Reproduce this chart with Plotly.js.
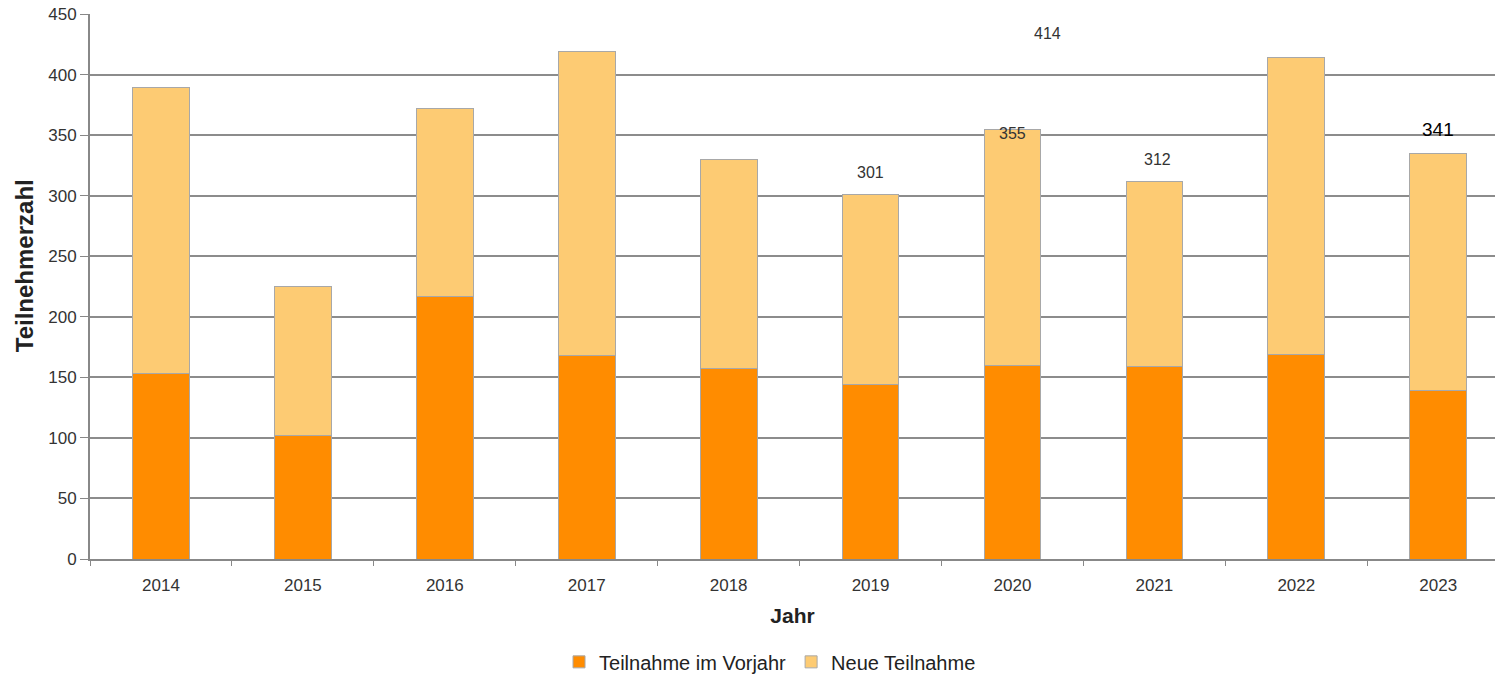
<!DOCTYPE html>
<html>
<head>
<meta charset="utf-8">
<script src="https://cdn.plot.ly/plotly-3.0.1.min.js"></script>
<style>html,body{margin:0;padding:0;background:#fff;}#chart{width:1495px;height:674px;}</style>
</head>
<body>
<div id="chart"></div>
<script>
var years = ['2014','2015','2016','2017','2018','2019','2020','2021','2022','2023'];
var vorjahr = [153, 102, 217, 168, 157, 144, 160, 159, 169, 139];
var neue    = [236, 123, 155, 251, 173, 157, 195, 153, 245, 196];
var seriesNames = ['Teilnahme im Vorjahr', 'Neue Teilnahme'];
var yTicks = [0, 50, 100, 150, 200, 250, 300, 350, 400, 450];

// value labels as placed in the original
var labelText = ['414', '355', '301', '312', '341'];
var labelX    = [6.25, 6.0, 5.0, 7.02, 9.0];
var labelY    = [434, 351, 319.5, 329.5, 355];
var labelSize = [16, 16, 16, 16, 19];

var FONT = 'Liberation Sans, Arial, sans-serif';
var barLine = {color: '#a8a8a8', width: 1};
var traces = [
  {type: 'bar', x: years, y: vorjahr, name: seriesNames[0],
   marker: {color: '#ff8c00', line: barLine}, width: 0.4},
  {type: 'bar', x: years, y: neue, name: seriesNames[1],
   marker: {color: '#fdcb73', line: barLine}, width: 0.4}
];

var annotations = labelText.map(function (t, i) {
  return {x: labelX[i], y: labelY[i], xref: 'x', yref: 'y', text: t, showarrow: false,
          font: {family: FONT, size: labelSize[i], color: i === 4 ? '#000' : '#333'}};
});
annotations.push({
  text: '<b>Teilnehmerzahl</b>', textangle: -90, showarrow: false,
  xref: 'paper', yref: 'paper', x: -0.047, y: 0.539, xanchor: 'center', yanchor: 'middle',
  font: {family: FONT, size: 24, color: '#222'}
});

var layout = {
  width: 1495, height: 674,
  margin: {l: 90, r: 0, t: 14, b: 115, autoexpand: false},
  paper_bgcolor: '#fff', plot_bgcolor: '#fff',
  barmode: 'stack',
  font: {family: FONT, size: 17, color: '#444'},
  xaxis: {
    type: 'category', range: [-0.5, 9.4], automargin: false,
    showline: true, linecolor: '#888', linewidth: 2,
    ticks: 'outside', tickson: 'boundaries', ticklen: 5, tickcolor: '#888',
    ticklabelstandoff: 10,
    showgrid: false,
    title: {text: '<b>Jahr</b>', font: {family: FONT, size: 21, color: '#222'}, standoff: 14},
    tickfont: {family: FONT, size: 17, color: '#333'}
  },
  yaxis: {
    range: [0, 450], tickvals: yTicks, automargin: false,
    showline: true, linecolor: '#888', linewidth: 2,
    ticks: 'outside', ticklen: 8, tickcolor: '#888',
    gridcolor: '#8c8c8c', gridwidth: 2, zeroline: false,
    tickfont: {family: FONT, size: 17, color: '#333'}
  },
  showlegend: true,
  legend: {orientation: 'h', x: 0.484, xanchor: 'center', yref: 'container', y: 0.018, yanchor: 'middle',
           font: {family: FONT, size: 20, color: '#222'}, traceorder: 'normal', itemwidth: 30},
  annotations: annotations
};

Plotly.newPlot('chart', traces, layout, {displayModeBar: false, staticPlot: true});
</script>
</body>
</html>
